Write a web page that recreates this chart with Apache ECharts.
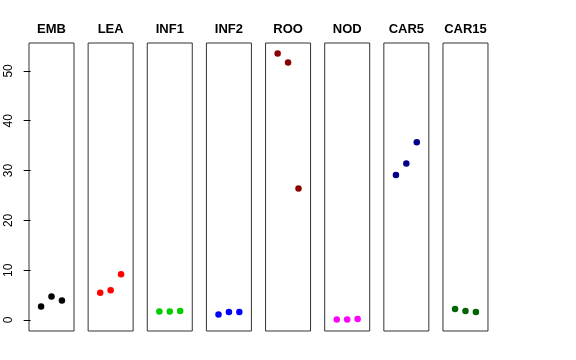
<!DOCTYPE html>
<html>
<head>
<meta charset="utf-8">
<script src="https://cdn.jsdelivr.net/npm/echarts@6/dist/echarts.min.js"></script>
<style>html,body{margin:0;padding:0;background:#fff}#c{width:576px;height:360px}</style>
</head>
<body>
<div id="c"></div>
<script>
const panelNames = ['EMB', 'LEA', 'INF1', 'INF2', 'ROO', 'NOD', 'CAR5', 'CAR15'];
const xPositions = [1, 2, 3];
const EMB = [2.7, 4.7, 3.9];
const LEA = [5.5, 6.0, 9.2];
const INF1 = [1.7, 1.7, 1.8];
const INF2 = [1.1, 1.6, 1.6];
const ROO = [53.5, 51.7, 26.4];
const NOD = [0.1, 0.1, 0.2];
const CAR5 = [29.1, 31.4, 35.7];
const CAR15 = [2.2, 1.8, 1.6];
const panelValues = [EMB, LEA, INF1, INF2, ROO, NOD, CAR5, CAR15];
const panelColors = ['#000000', '#FF0000', '#00CD00', '#0000FF', '#8B0000', '#FF00FF', '#00008B', '#006400'];
const yTicks = [0, 10, 20, 30, 40, 50];

const font = 'Liberation Sans, Arial, Helvetica, sans-serif';
const gridLeft0 = 29, gridStep = 59.14, gridW = 45, gridTop = 43, gridH = 288;

const grids = [], xAxes = [], yAxes = [], series = [], titles = [];
panelNames.forEach((name, i) => {
  const left = gridLeft0 + gridStep * i;
  grids.push({left: left, top: gridTop, width: gridW, height: gridH, show: true,
    borderColor: '#333', borderWidth: 1, backgroundColor: 'transparent'});
  xAxes.push({type: 'value', gridIndex: i, min: -0.16, max: 4.16, show: false});
  const y = {type: 'value', gridIndex: i, min: -2.2, max: 55.6, splitLine: {show: false}};
  if (i === 0) {
    Object.assign(y, {
      show: true,
      axisLine: {show: false},
      axisTick: {show: true, length: 7, inside: false, customValues: yTicks,
        lineStyle: {color: '#000', width: 1}},
      axisLabel: {show: true, rotate: 90, customValues: yTicks, margin: 14,
        fontSize: 12, color: '#000', fontFamily: font}
    });
  } else {
    y.show = false;
  }
  yAxes.push(y);
  titles.push({text: name, left: left + gridW / 2, top: 23, textAlign: 'center', padding: 0,
    textStyle: {fontSize: 13, fontWeight: 'bold', color: '#000', fontFamily: font}});
  series.push({type: 'scatter', xAxisIndex: i, yAxisIndex: i, symbol: 'circle', symbolSize: 6.5,
    itemStyle: {color: panelColors[i], opacity: 1},
    data: xPositions.map((x, k) => [x, panelValues[i][k]])});
});

const chart = echarts.init(document.getElementById('c'), null, {renderer: 'canvas'});
chart.setOption({animation: false, backgroundColor: '#fff', title: titles, grid: grids,
  xAxis: xAxes, yAxis: yAxes, series: series});
</script>
</body>
</html>
